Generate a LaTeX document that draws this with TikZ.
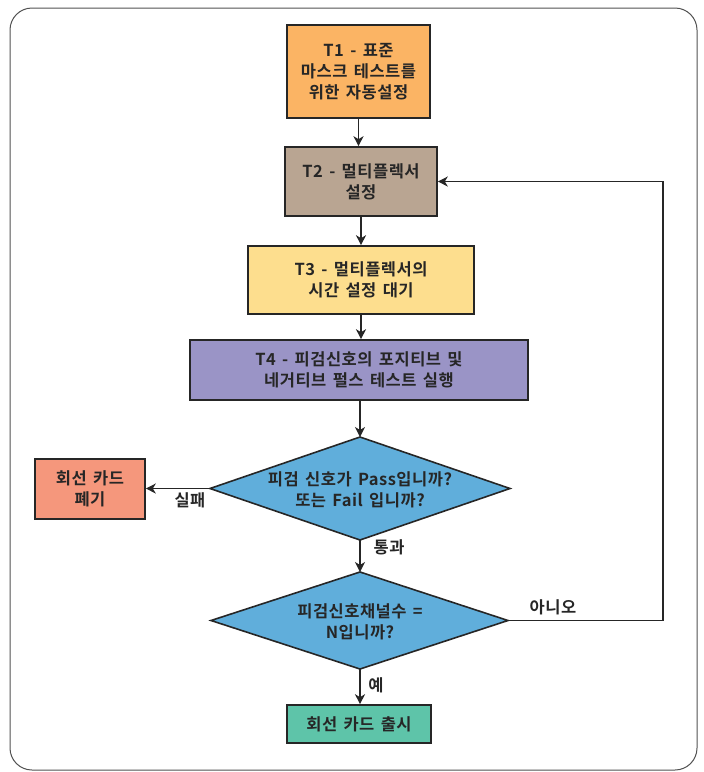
\documentclass[tikz,border=0pt]{standalone}
\usepackage{fontspec}
\newfontfamily\kr{Noto Sans CJK KR Bold}[LetterSpace=3,WordSpace=1.5]
\usetikzlibrary{arrows.meta}
\definecolor{ink}{HTML}{262626}
\definecolor{cT1}{HTML}{FBB464}
\definecolor{cT2}{HTML}{B9A592}
\definecolor{cT3}{HTML}{FDDE8E}
\definecolor{cT4}{HTML}{9A94C6}
\definecolor{cD}{HTML}{60AEDB}
\definecolor{cRej}{HTML}{F5977C}
\definecolor{cRel}{HTML}{5EC4A9}
\tikzset{
  box/.style={draw=ink, line width=1.6pt, inner sep=0pt, align=center, text=ink,
    font=\kr\fontsize{16.5}{21}\selectfont},
  dia/.style={draw=ink, line width=1.6pt},
  txt/.style={text=ink, align=center, font=\kr\fontsize{16.5}{21}\selectfont, inner sep=0pt},
  conn/.style={draw=ink, line width=1.4pt, -{Stealth[length=10pt,width=10pt,inset=3pt]}},
}
\begin{document}
\begin{tikzpicture}[x=1pt,y=-1pt]
\useasboundingbox (0,0) rectangle (704,772);
\draw[draw=ink!80, line width=1pt, rounded corners=22pt] (10,8) rectangle (697,770);

\node[box, fill=cT1, minimum width=143pt, minimum height=93pt] (t1) at (358.5,71.5) {T1 - 표준\\마스크 테스트를\\위한 자동설정};
\node[box, fill=cT2, minimum width=152pt, minimum height=69pt] (t2) at (361,181.5) {T2 - 멀티플렉서\\설정};
\node[box, fill=cT3, minimum width=226pt, minimum height=68pt] (t3) at (361,280) {T3 - 멀티플렉서의\\시간 설정 대기};
\node[box, fill=cT4, minimum width=338pt, minimum height=60pt] (t4) at (359,370) {T4 - 피검신호의 포지티브 및\\네거티브 펄스 테스트 실행};

\coordinate (d1n) at (360,437);
\coordinate (d1e) at (510,488.5);
\coordinate (d1s) at (360,540);
\coordinate (d1w) at (210,488.5);
\filldraw[dia, fill=cD] (d1n) -- (d1e) -- (d1s) -- (d1w) -- cycle;
\node[txt] (d1) at (360,490) {피검 신호가 Pass입니까?\\또는 Fail 입니까?};

\coordinate (d2n) at (360,572);
\coordinate (d2e) at (508,620.5);
\coordinate (d2s) at (360,669);
\coordinate (d2w) at (211,620.5);
\filldraw[dia, fill=cD] (d2n) -- (d2e) -- (d2s) -- (d2w) -- cycle;
\node[txt] (d2) at (360,622) {피검신호채널수 =\\N입니까?};

\node[box, fill=cRej, minimum width=110pt, minimum height=60pt] (rej) at (90,489) {회선 카드\\폐기};
\node[box, fill=cRel, minimum width=144pt, minimum height=38pt] (rel) at (359,724) {회선 카드 출시};

\draw[conn] (t1.south) -- (t1.south |- t2.north);
\draw[conn] (t2.south) -- (t2.south |- t3.north);
\draw[conn] (t3.south) -- (t3.south |- t4.north);
\draw[conn] (t4.south -| d1n) -- (d1n);
\draw[conn] (d1s) -- (d2n);
\draw[conn] (d1w) -- (rej.east |- d1w);
\draw[conn] (d2s) -- (d2s |- rel.north);
\coordinate (rc) at (663,620.5);
\draw[conn] (d2e) -- (rc) |- (t2.east);

\node[txt] (lfail) at (190,500) {실패};
\node[txt] (lpass) at (389,547) {통과};
\node[txt] (lno) at (553,607) {아니오};
\node[txt] (lyes) at (376,685) {예};
\end{tikzpicture}
\end{document}
